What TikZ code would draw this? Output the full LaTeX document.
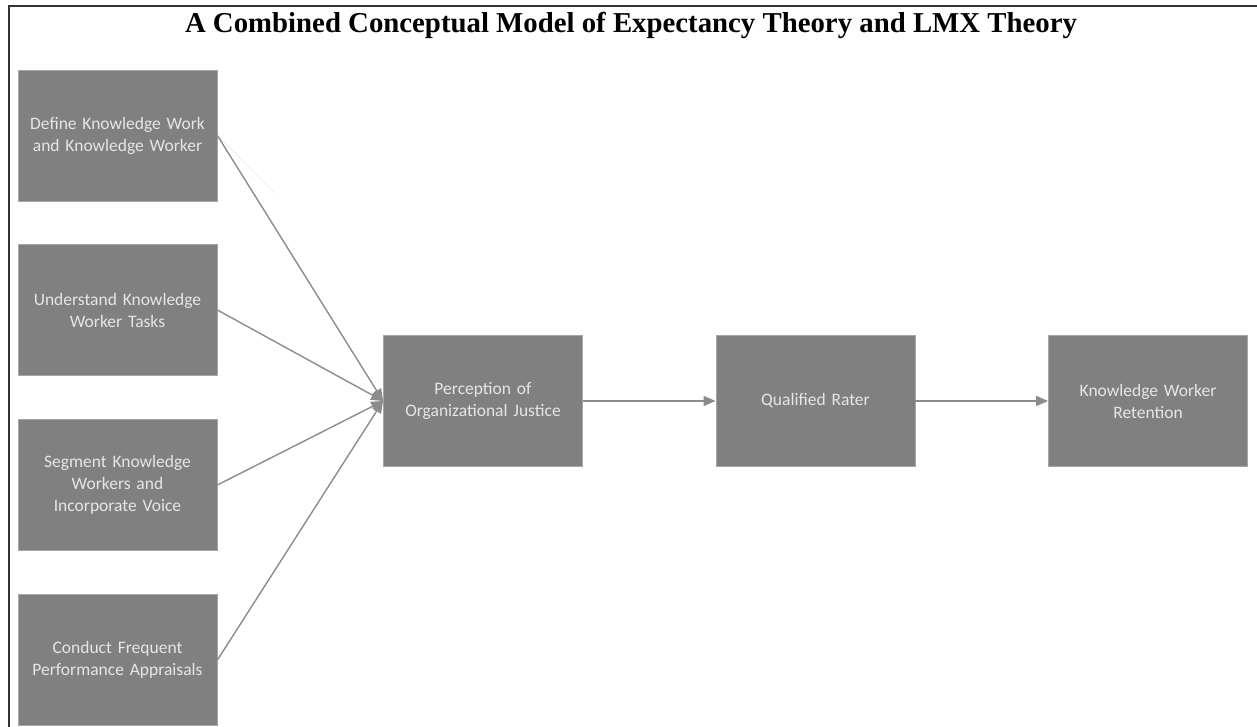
\documentclass[tikz,border=0pt]{standalone}
\usepackage{fontspec}
\setmainfont{Liberation Serif}
\newfontfamily\boxfont{Carlito}
\usetikzlibrary{arrows.meta}
\definecolor{boxgray}{HTML}{808080}
\definecolor{boxedge}{HTML}{A6A6A6}
\definecolor{txtgray}{HTML}{E6E6E6}
\definecolor{linegray}{HTML}{8C8C8C}
\tikzset{
  stepbox/.style={rectangle, fill=boxgray, draw=boxedge, line width=0.8pt,
    minimum width=199pt, minimum height=131pt, inner sep=0pt,
    align=center, text width=196pt, text=txtgray,
    font=\boxfont\fontsize{17.5}{22}\selectfont},
  conn/.style={draw=linegray, line width=1.4pt, -{Triangle[length=12pt,width=10pt]}},
  framebar/.style={draw=black!80, line width=2pt}
}
\begin{document}
\begin{tikzpicture}[x=1pt,y=-1pt]
\useasboundingbox (0,0) rectangle (1257,726);
\fill[white] (0,0) rectangle (1257,726);
\coordinate (ftl) at (9,6);
\coordinate (ftr) at (1258,6);
\coordinate (fbl) at (9,727);
\draw[framebar] (fbl) -- (ftl) -- (ftr);
\node[font=\bfseries\fontsize{28.8}{32}\selectfont] (title) at (631,25) {A Combined Conceptual Model of Expectancy Theory and LMX Theory};
\node[stepbox] (b1) at (117.5,135.5) {Define Knowledge Work\\and Knowledge Worker};
\node[stepbox] (b2) at (117.5,310) {Understand Knowledge\\Worker Tasks};
\node[stepbox] (b3) at (117.5,485) {Segment Knowledge\\Workers and\\Incorporate Voice};
\node[stepbox] (b4) at (117.5,660) {Conduct Frequent\\Performance Appraisals};
\node[stepbox] (p) at (483,401) {Perception of\\Organizational Justice};
\node[stepbox] (q) at (815.5,401) {Qualified Rater};
\node[stepbox] (r) at (1148,401) {Knowledge Worker\\Retention};
\coordinate (faint) at (275,193);
\draw[black!8, line width=0.6pt] (b1.east) -- (faint);
\draw[conn] (b1.east) -- (p.west);
\draw[conn] (b2.east) -- (p.west);
\draw[conn] (b3.east) -- (p.west);
\draw[conn] (b4.east) -- (p.west);
\draw[conn] (p.east) -- (q.west);
\draw[conn] (q.east) -- (r.west);
\end{tikzpicture}
\end{document}
